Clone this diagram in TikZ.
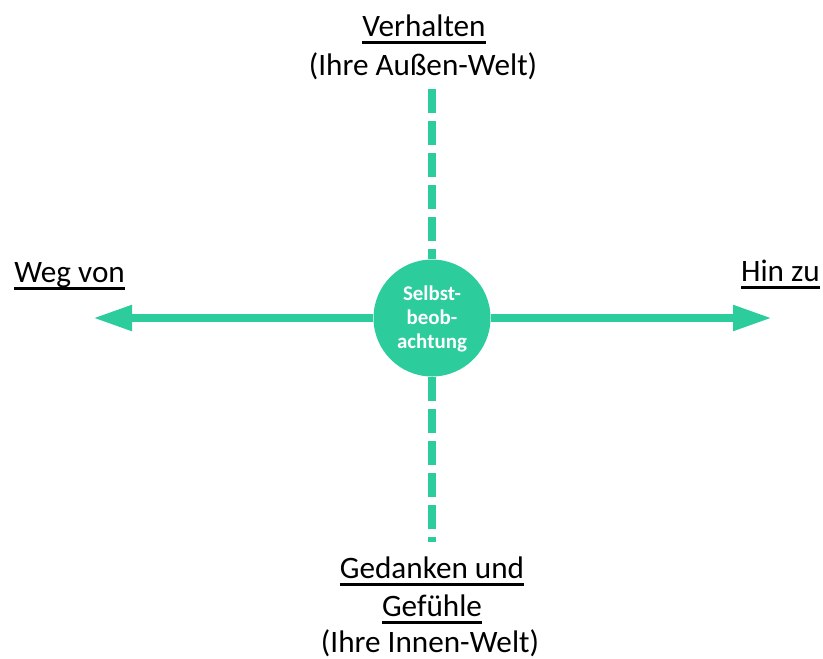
\documentclass[tikz,border=0pt]{standalone}
\usepackage{fontspec}
\setmainfont{Carlito}
\usetikzlibrary{arrows.meta}
\definecolor{teal1}{RGB}{44,204,157}
\newcommand\myul[1]{\setbox0\hbox{#1}\rlap{\rule[-6pt]{\wd0}{2pt}}\box0}
\tikzset{
  lbl/.style={anchor=base, inner sep=0pt, font=\fontsize{23.4pt}{28.5pt}\selectfont, text=black},
  inlbl/.style={anchor=base, inner sep=0pt, font=\fontsize{15.7pt}{18pt}\selectfont\bfseries, text=white},
  axis/.style={draw=teal1, line width=6pt},
  dashaxis/.style={draw=teal1, line width=6pt, dash pattern=on 18pt off 6pt},
  tipstyle/.style={-{Triangle[length=29.25pt, width=18pt]}},
}
\begin{document}
\begin{tikzpicture}[x=0.75pt, y=-0.75pt]
\useasboundingbox (0,0) rectangle (823,658);
\node[circle, fill=teal1, minimum size=87.75pt, inner sep=0pt] (c) at (432,318) {};
\coordinate (top) at (432,89);
\coordinate (bot) at (432,542);
\coordinate (tipL) at (93,318);
\coordinate (tipR) at (772,318);
\draw[dashaxis] (top) -- (c.north);
\draw[dashaxis] (c.south) -- (bot);
\draw[axis, tipstyle] (c.west) -- (tipL);
\draw[axis, tipstyle] (c.east) -- (tipR);
\node[inlbl] (s1) at (432,300) {Selbst-};
\node[inlbl] (s2) at (432,324) {beob-};
\node[inlbl] (s3) at (432,348) {achtung};
\node[lbl] (v1) at (424,36) {\myul{Verhalten}};
\node[lbl] (v2) at (423,75) {(Ihre Außen-Welt)};
\node[lbl, anchor=base west] (w) at (14,282) {\myul{Weg von}};
\node[lbl, anchor=base east] (h) at (820,281) {\myul{Hin zu}};
\node[lbl] (g1) at (432,578) {\myul{Gedanken und}};
\node[lbl] (g2) at (432,616) {\myul{Gefühle}};
\node[lbl] (g3) at (430,652) {(Ihre Innen-Welt)};
\end{tikzpicture}
\end{document}
